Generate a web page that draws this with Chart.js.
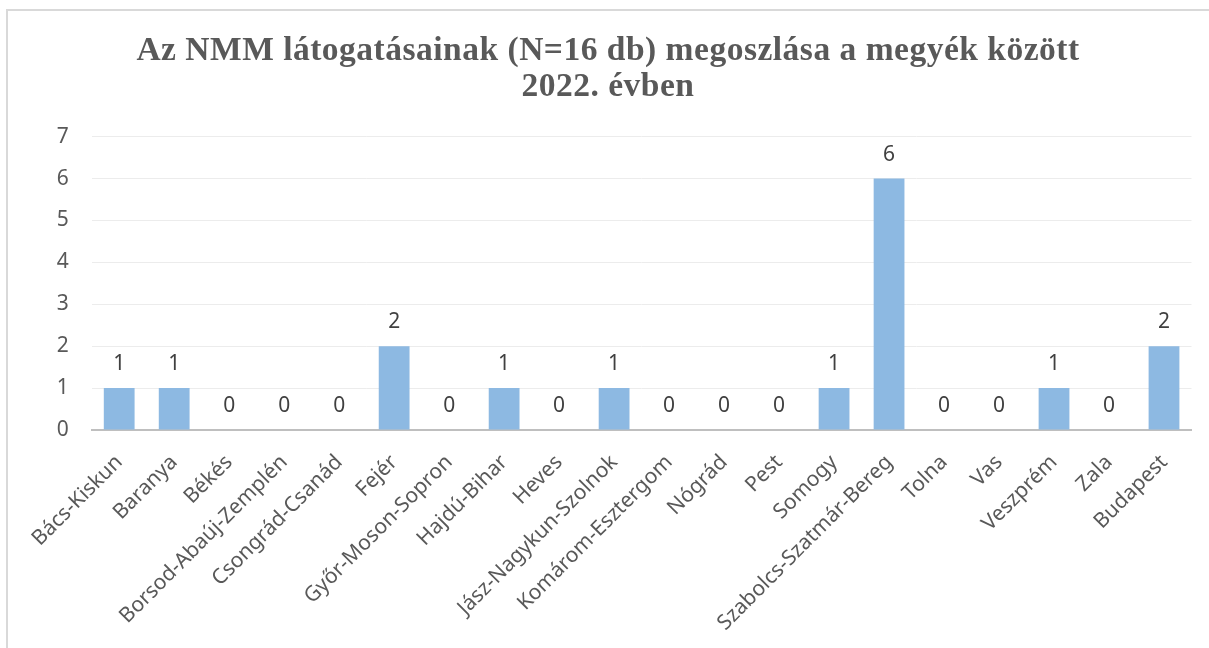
<!DOCTYPE html>
<html>
<head>
<meta charset="utf-8">
<script src="https://cdn.jsdelivr.net/npm/chart.js@4.4.1/dist/chart.umd.min.js"></script>
<style>
  body { margin: 0; background: #fff; overflow: hidden; }
  #frame {
    position: absolute; left: 6px; top: 9px; width: 1300px; height: 800px;
    border: 2px solid #d9d9d9; box-sizing: border-box;
  }
  #c { position: absolute; left: 0; top: 0; }
</style>
</head>
<body>
<div id="frame"></div>
<canvas id="c" width="1209" height="648"></canvas>
<script>
const megyek = [
  "Bács-Kiskun", "Baranya", "Békés", "Borsod-Abaúj-Zemplén", "Csongrád-Csanád",
  "Fejér", "Győr-Moson-Sopron", "Hajdú-Bihar", "Heves", "Jász-Nagykun-Szolnok",
  "Komárom-Esztergom", "Nógrád", "Pest", "Somogy", "Szabolcs-Szatmár-Bereg",
  "Tolna", "Vas", "Veszprém", "Zala", "Budapest"
];
const latogatasok = [1, 1, 0, 0, 0, 2, 0, 1, 0, 1, 0, 0, 0, 1, 6, 0, 0, 1, 0, 2];
const yTicks = [0, 1, 2, 3, 4, 5, 6, 7];
const cim = [
  "Az NMM látogatásainak (N=16 db) megoszlása a megyék között",
  "2022. évben"
];

const betu = "'Noto Sans'";

// cím, kicsit ritkított betűközzel
const cimRajz = {
  id: "cimRajz",
  afterDraw(chart) {
    const ctx = chart.ctx;
    ctx.save();
    ctx.font = "bold 33.5px 'Liberation Serif'";
    ctx.fillStyle = "#595959";
    ctx.textAlign = "center";
    ctx.textBaseline = "alphabetic";
    if ("letterSpacing" in ctx) ctx.letterSpacing = "0.5px";
    cim.forEach((sor, i) => ctx.fillText(sor, 608, 60 + i * 36));
    ctx.restore();
  }
};

// értékek kiírása az oszlopok fölé
const ertekCimkek = {
  id: "ertekCimkek",
  afterDatasetsDraw(chart) {
    const ctx = chart.ctx;
    const meta = chart.getDatasetMeta(0);
    ctx.save();
    ctx.font = "21px " + betu;
    ctx.fillStyle = "#404040";
    ctx.textAlign = "center";
    ctx.textBaseline = "alphabetic";
    meta.data.forEach((bar, i) => {
      ctx.fillText(String(latogatasok[i]), bar.x, bar.y - 18);
    });
    ctx.restore();
  }
};

new Chart(document.getElementById("c").getContext("2d"), {
  type: "bar",
  data: {
    labels: megyek,
    datasets: [{
      label: "Látogatások",
      data: latogatasok,
      backgroundColor: "#8db9e2",
      borderWidth: 0,
      barPercentage: 0.56,
      categoryPercentage: 1
    }]
  },
  plugins: [ertekCimkek, cimRajz],
  options: {
    responsive: false,
    animation: false,
    layout: { padding: { left: 0, right: 17.5, top: 136.7, bottom: 0 } },
    plugins: {
      legend: { display: false },
      tooltip: { enabled: false },
      title: { display: false }
    },
    scales: {
      x: {
        grid: { display: false },
        border: { display: true, color: "#bfbfbf", width: 2 },
        ticks: {
          autoSkip: false,
          minRotation: 45,
          maxRotation: 45,
          padding: 12,
          labelOffset: 0,
          color: "#595959",
          font: { family: betu, size: 21 }
        },
        afterFit(scale) { scale.height = 218; }
      },
      y: {
        min: 0,
        max: 7,
        afterBuildTicks(scale) { scale.ticks = yTicks.map(v => ({ value: v })); },
        grid: { color: "#ececec", lineWidth: 1, drawTicks: false },
        border: { display: false },
        ticks: {
          padding: 23,
          color: "#595959",
          font: { family: betu, size: 21 }
        },
        afterFit(scale) { scale.width = 91.7; }
      }
    }
  }
});
</script>
</body>
</html>
